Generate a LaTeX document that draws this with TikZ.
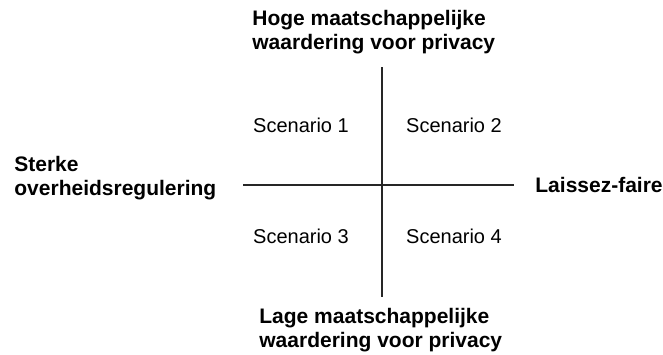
\documentclass[tikz,border=0pt]{standalone}
\usepackage{fontspec}
\setmainfont{Liberation Sans}
\usepackage{tikz}
\usetikzlibrary{positioning}

\begin{document}
\begin{tikzpicture}[x=0.5pt, y=-0.5pt,
    axis/.style={draw=black!85, line width=0.65pt},
    pole/.style={font=\fontsize{10.5}{12}\selectfont\bfseries, align=left, inner sep=0pt},
    scen/.style={font=\fontsize{10}{12}\selectfont, inner sep=0pt}]

\useasboundingbox (0,0) rectangle (663,354);

% Axis end points
\coordinate (links) at (243,185);
\coordinate (rechts) at (514,185);
\coordinate (boven) at (382,67);
\coordinate (onder) at (382,297);

% Axes
\draw[axis] (links) -- (rechts);
\draw[axis] (boven) -- (onder);

% Poles (base = baseline of last line)
\node[pole, anchor=base west] (hoog) at (252,49) {Hoge maatschappelijke\\waardering voor privacy};
\node[pole, anchor=base west] (laag) at (259,347) {Lage maatschappelijke\\waardering voor privacy};
\node[pole, anchor=base west] (sterk) at (14,195) {Sterke\\overheidsregulering};
\node[pole, anchor=base west] (vrij) at (535,192) {Laissez-faire};

% Scenarios
\node[scen, anchor=base] (s1) at (301,132) {Scenario 1};
\node[scen, anchor=base] (s2) at (454,132) {Scenario 2};
\node[scen, anchor=base] (s3) at (301,243) {Scenario 3};
\node[scen, anchor=base] (s4) at (454,243) {Scenario 4};

\end{tikzpicture}
\end{document}
